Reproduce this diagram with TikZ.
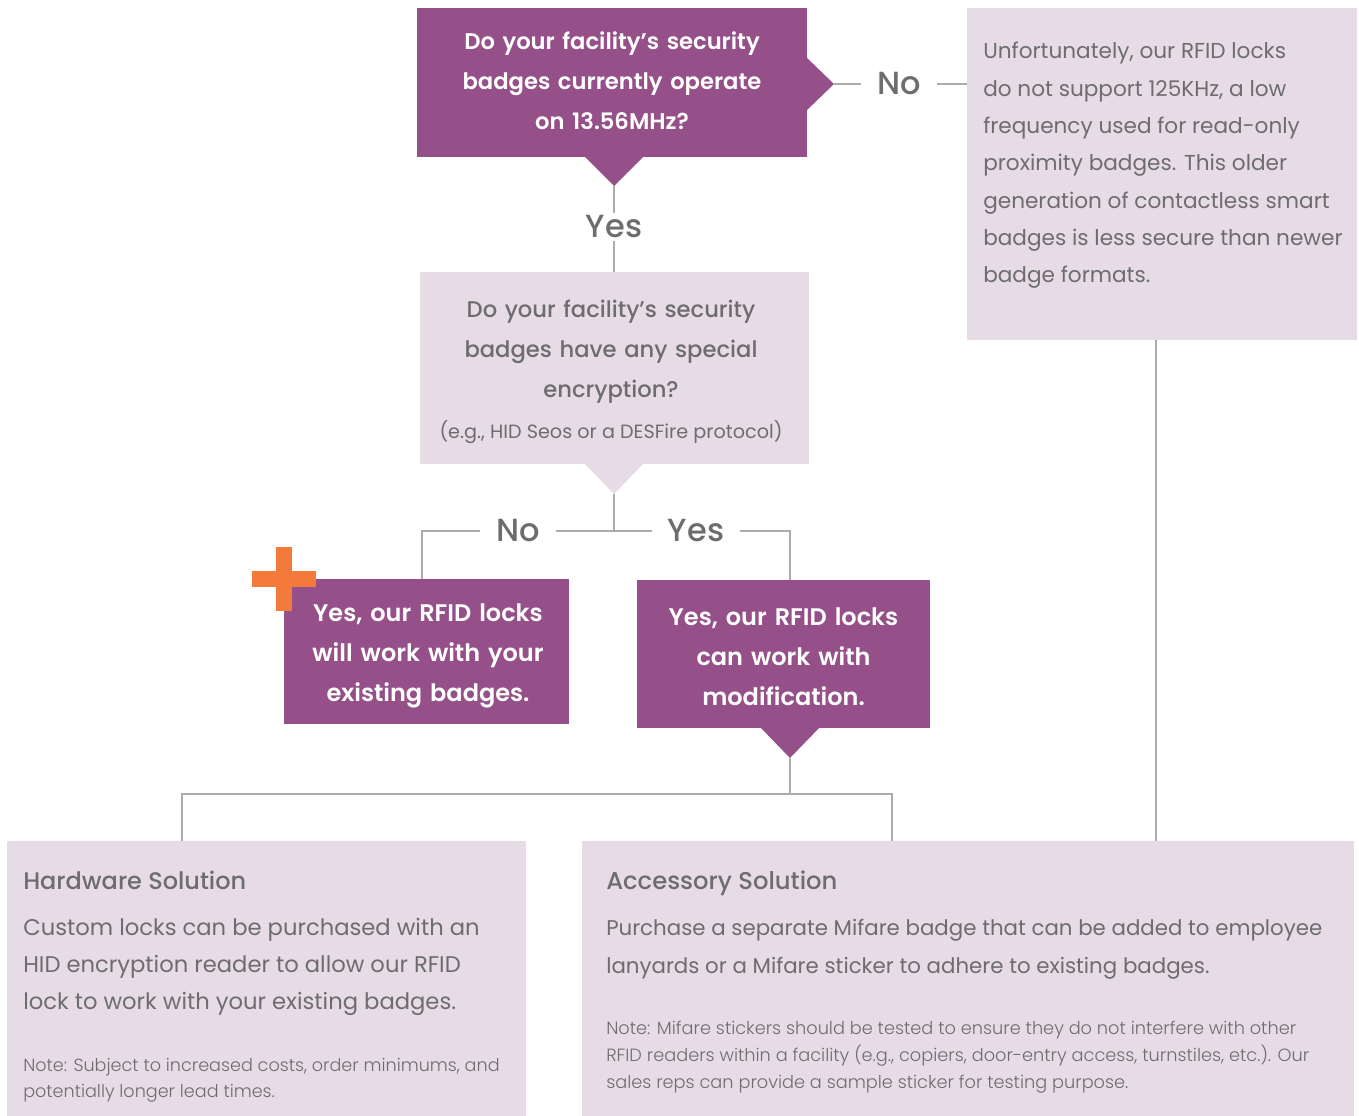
\documentclass[tikz,border=0pt]{standalone}
\usepackage{fontspec}
\setmainfont{Poppins}[BoldFont={Poppins Medium}]
\newfontfamily\semib{Poppins SemiBold}
\newfontfamily\lightf{Poppins Light}
\usetikzlibrary{calc}
\definecolor{purp}{HTML}{955089}
\definecolor{pale}{HTML}{E7DCE6}
\definecolor{txt}{HTML}{6D6D6F}
\definecolor{lnc}{HTML}{ABABAB}
\definecolor{orng}{HTML}{F47A3C}
\begin{document}
\begin{tikzpicture}[x=0.75pt,y=-0.75pt]
\tikzset{
  pbox/.style={fill=purp, draw=none, inner sep=0pt},
  lbox/.style={fill=pale, draw=none, inner sep=0pt},
  wtext/.style={inner sep=0pt, text=white, align=center, text width=280pt},
  qtext/.style={inner sep=0pt, text=txt, align=center, text width=280pt,
    font=\bfseries\fontsize{17}{30}\selectfont},
  lab/.style={text=txt, font=\bfseries\fontsize{24}{26}\selectfont, inner xsep=12pt, inner ysep=2pt},
  ptext/.style={inner sep=0pt, text=txt, anchor=base west},
  conn/.style={draw=lnc, line width=0.9pt}
}
\useasboundingbox (0,0) rectangle (1359,1116);
\fill[white] (0,0) rectangle (1359,1116);

% boxes
\node[lbox, minimum width=292.5pt, minimum height=249pt] (b7) at (1162,174) {};
\node[pbox, minimum width=292.5pt, minimum height=111.75pt] (b1) at (612,82.5) {};
\fill[purp] (806,57) -- (834,84) -- (806,111) -- cycle;
\fill[purp] (584,156) -- (614,186) -- (644,156) -- cycle;
\coordinate (t1r) at (834,84);
\coordinate (t1) at (614,186);
\node[wtext, font=\semib\fontsize{17}{30}\selectfont] (q1) at (612,80.5)
  {Do your facility’s security\\badges currently operate\\on 13.56MHz?};

\node[lbox, minimum width=291.75pt, minimum height=144pt] (b2) at (614.5,368) {};
\fill[pale] (584,463) -- (614,494) -- (644,463) -- cycle;
\coordinate (t2) at (614,494);
\node[qtext] (q2) at (611,352) {Do your facility’s security\\badges have any special\\encryption?};
\node[inner sep=0pt, text=txt, font=\fontsize{14.4}{16}\selectfont] (q2s) at (611,432)
  {(e.g., HID Seos or a DESFire protocol)};

\node[pbox, minimum width=213.75pt, minimum height=108.75pt] (b3) at (426.5,651.5) {};
\node[wtext, font=\semib\fontsize{18}{30}\selectfont] (q3) at (428,656)
  {Yes, our RFID locks\\will work with your\\existing badges.};
\node[pbox, minimum width=219.75pt, minimum height=111pt] (b4) at (783.5,654) {};
\node[wtext, font=\semib\fontsize{18}{30}\selectfont] (q4) at (783.5,657)
  {Yes, our RFID locks\\can work with\\modification.};
\fill[purp] (760,727) -- (790,758) -- (820,727) -- cycle;
\coordinate (t4) at (790,758);

% orange cross
\fill[orng] (276,547) rectangle (292,611);
\fill[orng] (252,571) rectangle (316,587);

\node[lbox, minimum width=389.25pt, minimum height=206.25pt] (b5) at (266.5,978.5) {};
\node[lbox, minimum width=579pt, minimum height=206.25pt] (b6) at (968,978.5) {};

% texts in pale boxes
\node[ptext, font=\fontsize{16.2}{28}\selectfont] (t7) at (983,59)
  {\parbox[t]{290pt}{\raggedright Unfortunately, our RFID locks\\do not support 125KHz, a low\\frequency used for read-only\\proximity badges. This older\\generation of contactless smart\\badges is less secure than newer\\badge formats.}};

\node[ptext, font=\bfseries\fontsize{18}{20}\selectfont] (h5) at (23,889) {Hardware Solution};
\node[ptext, font=\fontsize{17}{28.1}\selectfont] (p5) at (23,935)
  {\parbox[t]{380pt}{\raggedright Custom locks can be purchased with an\\HID encryption reader to allow our RFID\\lock to work with your existing badges.}};
\node[ptext, font=\lightf\fontsize{13.2}{19.5}\selectfont] (n5) at (23,1071)
  {\parbox[t]{380pt}{\raggedright Note: Subject to increased costs, order minimums, and\\potentially longer lead times.}};

\node[ptext, font=\bfseries\fontsize{18.2}{20}\selectfont] (h6) at (606,889) {Accessory Solution};
\node[ptext, font=\fontsize{16}{28.5}\selectfont] (p6) at (606,935)
  {\parbox[t]{570pt}{\raggedright Purchase a separate Mifare badge that can be added to employee\\lanyards or a Mifare sticker to adhere to existing badges.}};
\node[ptext, font=\lightf\fontsize{13.3}{20.25}\selectfont] (n6) at (606,1034)
  {\parbox[t]{570pt}{\raggedright Note: Mifare stickers should be tested to ensure they do not interfere with other\\RFID readers within a facility (e.g., copiers, door-entry access, turnstiles, etc.). Our\\sales reps can provide a sample sticker for testing purpose.}};

% labels
\node[lab] (no1) at (899,84) {No};
\node[lab] (yes1) at (614,227) {Yes};
\node[lab] (no2) at (518,531) {No};
\node[lab] (yes2) at (696,531) {Yes};

% connectors
\coordinate (j2) at (614,531);
\coordinate (e3) at (422,579);
\coordinate (e4) at (790,580);
\coordinate (jb) at (790,794);
\coordinate (e5) at (182,841);
\coordinate (e6) at (892,841);
\coordinate (s7) at (1156,340);
\coordinate (e7) at (1156,841);
\draw[conn] (t1r) -- (no1.west);
\draw[conn] (no1.east) -- (b7.west |- no1.east);
\draw[conn] (t1) -- (yes1.north);
\draw[conn] (yes1.south) -- (b2.north -| yes1.south);
\draw[conn] (t2) -- (j2);
\draw[conn] (j2) -- (no2.east);
\draw[conn] (no2.west) -| (e3);
\draw[conn] (j2) -- (yes2.west);
\draw[conn] (yes2.east) -| (e4);
\draw[conn] (t4) -- (jb);
\draw[conn] (jb) -| (e5);
\draw[conn] (jb) -| (e6);
\draw[conn] (s7) -- (e7);
\end{tikzpicture}
\end{document}
